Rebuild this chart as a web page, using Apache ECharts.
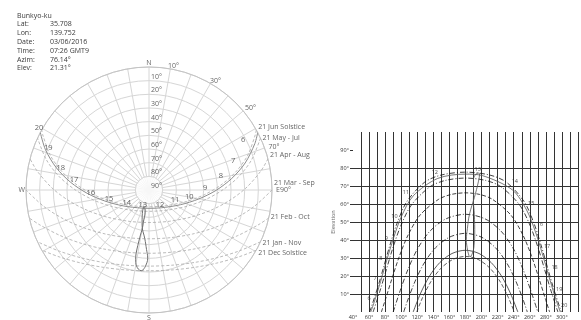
<!DOCTYPE html>
<html>
<head>
<meta charset="utf-8">
<style>
  html, body { margin: 0; padding: 0; background: #fff; }
  #chart { width: 581px; height: 320px; }
</style>
<script src="https://cdn.jsdelivr.net/npm/echarts@6/dist/echarts.min.js"></script>
</head>
<body>
<div id="chart"></div>
<script>
// ---- Site / moment info ----
const siteName = 'Bunkyo-ku';
const infoKeys = ['Lat:', 'Lon:', 'Date:', 'Time:', 'Azim:', 'Elev:'];
const infoValues = ['35.708', '139.752', '03/06/2016', '07:26 GMT9', '76.14°', '21.31°'];

// ---- Sun paths on the 21st, [azimuth°, elevation°] ----
const dateNames = ['21 Jun Solstice', '21 May - Jul', '21 Apr - Aug', '21 Mar - Sep', '21 Feb - Oct', '21 Jan - Nov', '21 Dec Solstice'];
const pathJun = [[60.7,0],[62.5,2.3],[70.6,13.4],[78.2,25.1],[86.0,37.2],[94.9,49.4],[107.0,61.3],[129.1,72.1],[149.9,76.1],[180,77.7],[210.1,76.1],[230.9,72.1],[253.0,61.3],[265.1,49.4],[274.0,37.2],[281.8,25.1],[289.4,13.4],[297.5,2.3],[299.3,0]];
const pathMay = [[65.0,0],[73.5,11.6],[81.4,23.4],[89.6,35.6],[99.3,47.7],[112.6,59.4],[135.8,69.6],[155.0,73.1],[180,74.4],[205.0,73.1],[224.2,69.6],[247.4,59.4],[260.7,47.7],[270.4,35.6],[278.6,23.4],[286.5,11.6],[295.0,0]];
const pathApr = [[75.3,0],[80.3,6.9],[88.8,19.0],[97.9,31.2],[108.8,43.0],[123.6,53.9],[146.5,62.6],[162.2,65.3],[180,66.2],[197.8,65.3],[213.5,62.6],[236.4,53.9],[251.2,43.0],[262.1,31.2],[271.2,19.0],[279.7,6.9],[284.7,0]];
const pathMar = [[90,0],[98.9,12.1],[108.7,24.0],[120.2,35.0],[135.3,44.7],[155.5,51.7],[180,54.3],[204.5,51.7],[224.7,44.7],[239.8,35.0],[251.3,24.0],[261.1,12.1],[270,0]];
const pathFeb = [[103.1,0],[107.4,5.7],[117.2,17.0],[128.6,27.2],[142.7,35.7],[160.2,41.6],[180,43.7],[199.8,41.6],[217.3,35.7],[231.4,27.2],[242.8,17.0],[252.6,5.7],[256.9,0]];
const pathJan = [[114.9,0],[124.2,10.5],[135.1,19.9],[148.1,27.5],[163.2,32.5],[180,34.3],[196.8,32.5],[211.9,27.5],[224.9,19.9],[235.8,10.5],[245.1,0]];
const pathDec = [[119.3,0],[126.7,8.1],[137.2,17.1],[149.7,24.4],[164.3,29.2],[180,30.9],[195.7,29.2],[210.3,24.4],[222.8,17.1],[233.3,8.1],[240.7,0]];
const datePaths = [pathJun, pathMay, pathApr, pathMar, pathFeb, pathJan, pathDec];

// ---- Path of the selected day, with its clock hours ----
const dayPath = [[62.1,0],[66.3,5.4],[74.3,16.9],[82.0,28.8],[90.3,40.9],[100.2,53.0],[115.1,64.6],[145.4,74.2],[180,76.6],[200.8,75.8],[238.2,67.9],[256.1,56.6],[267.0,44.6],[275.6,32.4],[283.4,20.4],[291.2,8.8],[297.9,0]];
const hourTicks = [6, 7, 8, 9, 10, 11, 12, 13, 14, 15, 16, 17, 18, 19, 20];
const hourAz = [66.3, 74.3, 82.0, 90.3, 100.2, 115.1, 145.4, 200.8, 238.2, 256.1, 267.0, 275.6, 283.4, 291.2, 297.9];
const hourEl = [5.4, 16.9, 28.8, 40.9, 53.0, 64.6, 74.2, 75.8, 67.9, 56.6, 44.6, 32.4, 20.4, 8.8, 0];

// ---- Analemma traced at 13:00 through the year ----
const analemma13 = [[184.4,31.2],[182.6,34.3],[181.1,40.1],[182.4,46.5],[184.9,54.2],[191.1,63.7],[196.0,72.3],[197.5,76.8],[196.0,77.2],[189.9,73.6],[190.0,66.0],[189.8,62.2],[191.0,54.3],[191.5,42.9],[190.9,38.4],[189.4,33.8],[185.6,30.7],[184.4,31.2]];

// ---- Axis labels ----
const elevRingTicks = [10, 20, 30, 40, 50, 60, 70, 80, 90];
const azRimAngles = [10, 30, 50, 70, 90];
const azRimTexts = ['10°', '30°', '50°', '70°', 'E90°'];
const cardinalAngles = [0, 270, 180];
const cardinalTexts = ['N', 'W', 'S'];
const azAxisLabels = [40, 60, 80, 100, 120, 140, 160, 180, 200, 220, 240, 260, 280, 300];
const elevAxisLabels = [10, 20, 30, 40, 50, 60, 70, 80, 90];

// ---- Presentation ----
const FONT = '"Open Sans", "Noto Sans", sans-serif';
const TXT = '#3a3a3a';
const POLAR_R = 123;
const dateLabelOffsets = [[0,-3],[0,0],[0,-4],[0,-7],[0,-1],[0,1],[0,3]];
const azRimOffsets = [[-2.4,-3.2],[-0.5,-2.8],[1.8,-2.6],[4,-0.5],[4,-0.5]];
const polarHourOffsets = [[-11.6,-3.5],[-12,-2],[-11,-2.4],[-11,-2.7],[-9.5,-2.3],[-5.5,-4.7],[-1.3,-2.8],[0.6,-3],[3.4,-3],[4.4,-2],[3.7,0],[3.3,-2.3],[4.2,0],[2.8,-1.6],[-1.3,-5]];
const cartHourOffsets = [[-5,-4],[-5.5,-3.4],[-6,-2],[-7,0],[-7,0],[-7.4,-3],[-3,-5.7],[-4.5,-6],[2.6,-8],[4.5,-7],[4.5,-7],[4.7,-7],[6,-8],[4.3,-7],[4,-7]];
const cartDateStyles = [
  { type: [5, 2, 1, 2], color: '#111' },
  { type: [5, 2, 1, 2], color: '#111' },
  { type: [4, 2], color: '#111' },
  { type: [5, 2, 1, 2], color: '#111' },
  { type: [5, 2, 1, 2], color: '#111' },
  { type: 'solid', color: '#333' },
  { type: [4, 2], color: '#333' }
];

const toPolar = (p) => [p[1], p[0]];
const chart = echarts.init(document.getElementById('chart'), null, { renderer: 'canvas' });

const series = [];

// white hub inside the 80° ring
series.push({
  type: 'scatter', coordinateSystem: 'polar', silent: true, z: 3,
  symbol: 'circle', symbolSize: 2 * POLAR_R / 9,
  itemStyle: { color: '#fff', borderColor: '#cfcfcf', borderWidth: 1 },
  data: [[90, 0]]
});

// date paths, sky map
datePaths.forEach((path) => {
  series.push({
    type: 'line', coordinateSystem: 'polar', smooth: 0.3, showSymbol: false, silent: true, z: 4,
    lineStyle: { color: '#a9a9a9', width: 0.8, type: [3, 2] },
    data: path.map(toPolar)
  });
});

// date names at sunrise points
series.push({
  type: 'scatter', coordinateSystem: 'polar', symbolSize: 0, silent: true, z: 6,
  data: datePaths.map((path, i) => ({
    value: toPolar(path[0]),
    label: { show: true, position: 'right', distance: 2, offset: dateLabelOffsets[i], formatter: dateNames[i] }
  })),
  label: { fontSize: 7, fontFamily: FONT, color: TXT }
});

// selected day path
series.push({
  type: 'line', coordinateSystem: 'polar', smooth: 0.3, showSymbol: false, silent: true, z: 5,
  lineStyle: { color: '#8c8c8c', width: 1 },
  data: dayPath.map(toPolar)
});

// analemma
series.push({
  type: 'line', coordinateSystem: 'polar', smooth: 0.4, showSymbol: false, silent: true, z: 5,
  lineStyle: { color: '#707070', width: 1 },
  data: analemma13.map(toPolar)
});

// hour numbers
series.push({
  type: 'scatter', coordinateSystem: 'polar', symbolSize: 0, silent: true, z: 6,
  data: hourTicks.map((h, i) => ({
    value: [hourEl[i], hourAz[i]],
    label: { show: true, position: 'inside', offset: polarHourOffsets[i], formatter: String(h) }
  })),
  label: { fontSize: 7.5, fontFamily: FONT, color: TXT }
});

// elevation ring labels along the north line
series.push({
  type: 'scatter', coordinateSystem: 'polar', symbolSize: 0, silent: true, z: 6,
  data: elevRingTicks.map((e) => ({
    value: [e, 0],
    label: { show: true, position: 'right', distance: 2, offset: [0, -4], formatter: e + '°' }
  })),
  label: { fontSize: 7, fontFamily: FONT, color: TXT }
});

// azimuth labels on the rim
series.push({
  type: 'scatter', coordinateSystem: 'polar', symbolSize: 0, silent: true, z: 6,
  data: azRimAngles.map((a, i) => ({
    value: [0, a],
    label: { show: true, position: 'right', distance: 0, offset: azRimOffsets[i], formatter: azRimTexts[i] }
  })),
  label: { fontSize: 7, fontFamily: FONT, color: TXT }
});

// cardinal points
series.push({
  type: 'scatter', coordinateSystem: 'polar', symbolSize: 0, silent: true, z: 6,
  data: cardinalAngles.map((a, i) => ({
    value: [0, a],
    label: { show: true, position: ['top', 'left', 'bottom'][i], distance: 1, formatter: cardinalTexts[i] }
  })),
  label: { fontSize: 7, fontFamily: FONT, color: TXT }
});

// ---- elevation / azimuth chart ----
datePaths.forEach((path, i) => {
  series.push({
    type: 'line', xAxisIndex: 0, yAxisIndex: 0, smooth: 0.3, showSymbol: false, silent: true, z: 4,
    lineStyle: { color: cartDateStyles[i].color, width: 0.8, type: cartDateStyles[i].type },
    data: path
  });
});
series.push({
  type: 'line', xAxisIndex: 0, yAxisIndex: 0, smooth: 0.3, showSymbol: false, silent: true, z: 5,
  lineStyle: { color: '#555', width: 0.8 },
  data: dayPath
});
series.push({
  type: 'line', xAxisIndex: 0, yAxisIndex: 0, smooth: 0.4, showSymbol: false, silent: true, z: 5,
  lineStyle: { color: '#555', width: 0.8 },
  data: analemma13
});
series.push({
  type: 'scatter', xAxisIndex: 0, yAxisIndex: 0, symbolSize: 0, silent: true, z: 6,
  data: hourTicks.map((h, i) => ({
    value: [hourAz[i], hourEl[i]],
    label: { show: true, position: 'inside', offset: cartHourOffsets[i], formatter: String(h) }
  })),
  label: { fontSize: 5.5, fontFamily: FONT, color: '#222' }
});

// ---- info block ----
const graphic = [
  { type: 'text', x: 17, y: 15.5, style: { text: siteName, font: '7px ' + FONT, fill: TXT, verticalAlign: 'middle' } }
];
infoKeys.forEach((k, i) => {
  const y = 24.3 + i * 8.8;
  graphic.push({ type: 'text', x: 17, y, style: { text: k, font: '7px ' + FONT, fill: TXT, verticalAlign: 'middle' } });
  graphic.push({ type: 'text', x: 50, y, style: { text: infoValues[i], font: '7px ' + FONT, fill: TXT, verticalAlign: 'middle' } });
});

chart.setOption({
  animation: false,
  backgroundColor: '#fff',
  textStyle: { fontFamily: FONT },
  polar: { center: [149, 190], radius: POLAR_R },
  angleAxis: {
    type: 'value', min: 0, max: 360, interval: 10, startAngle: 90, clockwise: true,
    axisLine: { show: true, lineStyle: { color: '#c4c4c4', width: 1 } },
    axisTick: { show: false }, axisLabel: { show: false },
    splitLine: { show: true, lineStyle: { color: '#d6d6d6', width: 1 } }
  },
  radiusAxis: {
    type: 'value', min: 0, max: 90, interval: 10, inverse: true,
    axisLine: { show: false }, axisTick: { show: false }, axisLabel: { show: false },
    splitLine: { show: true, lineStyle: { color: '#d6d6d6', width: 1 } }
  },
  grid: { left: 353, top: 132, width: 246.4, height: 181, containLabel: false },
  xAxis: {
    type: 'value', min: 40, max: 320, interval: 10,
    axisLine: { show: false }, axisTick: { show: false },
    axisLabel: {
      fontSize: 5.5, color: '#333', margin: 2, fontFamily: FONT,
      formatter: (v) => azAxisLabels.includes(v) ? v + '°' : ''
    },
    splitLine: { show: true, showMinLine: false, lineStyle: { color: '#333', width: 1 } }
  },
  yAxis: {
    type: 'value', min: 0, max: 100, interval: 10,
    name: 'Elevation', nameLocation: 'middle', nameGap: 14, nameRotate: 90,
    nameTextStyle: { fontSize: 5.5, color: '#666', fontFamily: FONT },
    axisLine: { show: false },
    axisTick: { show: true, length: 3, customValues: elevAxisLabels, lineStyle: { color: '#333' } },
    axisLabel: {
      fontSize: 5.5, color: '#333', margin: 4, fontFamily: FONT,
      customValues: elevAxisLabels,
      formatter: (v) => v + '°'
    },
    splitLine: { show: true, showMaxLine: false, lineStyle: { color: '#333', width: 1 } }
  },
  graphic,
  series
});
</script>
</body>
</html>
